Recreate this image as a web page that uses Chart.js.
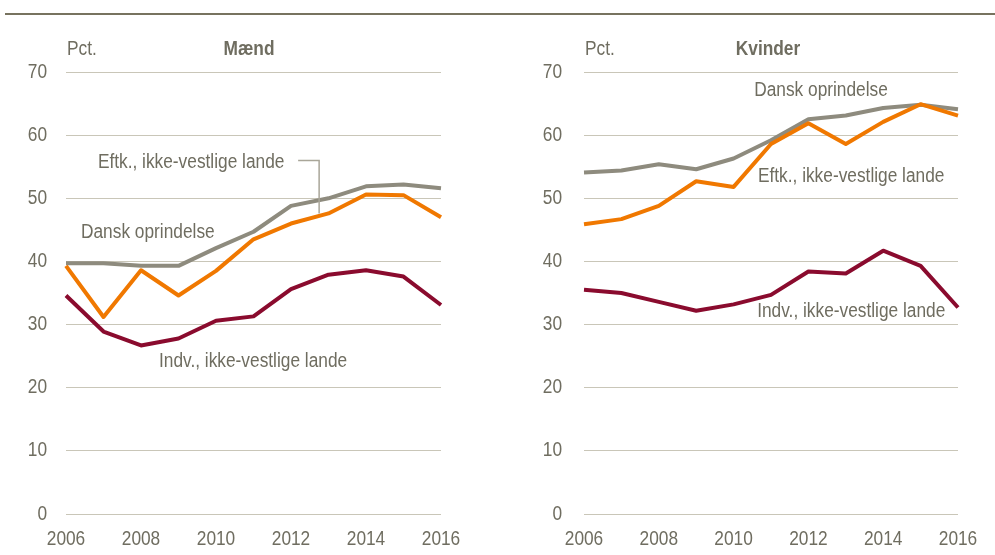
<!DOCTYPE html>
<html>
<head>
<meta charset="utf-8">
<script src="https://cdn.jsdelivr.net/npm/chart.js@4"></script>
<style>
  body { margin: 0; background: #fff; width: 995px; height: 555px; overflow: hidden; position: relative; }
  .rule { position: absolute; left: 5px; top: 13px; width: 990px; height: 2px; background: #77735f; }
  .box { position: absolute; top: 0; width: 497px; height: 555px; }
</style>
</head>
<body>
<div class="rule"></div>
<div class="box" style="left:0"><canvas id="maend"></canvas></div>
<div class="box" style="left:497px"><canvas id="kvinder"></canvas></div>
<script>
// data
const years = ['2006','2007','2008','2009','2010','2011','2012','2013','2014','2015','2016'];
const yTicks = [0, 10, 20, 30, 40, 50, 60, 70];

const maendDansk = [39.7, 39.7, 39.3, 39.3, 42.1, 44.7, 48.8, 50.0, 51.9, 52.2, 51.6];
const maendEftk  = [39.3, 31.2, 38.6, 34.6, 38.5, 43.5, 46.0, 47.6, 50.6, 50.5, 47.0];
const maendIndv  = [34.6, 28.9, 26.7, 27.8, 30.6, 31.3, 35.6, 37.9, 38.6, 37.6, 33.1];

const kvinderDansk = [54.1, 54.4, 55.4, 54.6, 56.3, 59.2, 62.5, 63.1, 64.3, 64.8, 64.1];
const kvinderEftk  = [45.9, 46.7, 48.8, 52.7, 51.8, 58.6, 61.9, 58.6, 62.1, 64.9, 63.1];
const kvinderIndv  = [35.5, 35.0, 33.6, 32.2, 33.2, 34.7, 38.4, 38.1, 41.7, 39.3, 32.7];

// no narrow font installed, so squeeze Liberation Sans a bit
const FONT = "'Liberation Sans', Arial, sans-serif";
const SQ = 0.865;
const TXT = '#6f6d60';
const GREY = '#8e8b7e', ORANGE = '#f07800', RED = '#8a0b2e';

// labels placed in data units (year index, value)
const maendNotes = [
  { text: 'Eftk., ikke-vestlige lande', x: 0.85, y: 55.6 },
  { text: 'Dansk oprindelse', x: 0.4, y: 44.55 },
  { text: 'Indv., ikke-vestlige lande', x: 2.48, y: 24.1 }
];
const kvinderNotes = [
  { text: 'Dansk oprindelse', x: 4.55, y: 67.0 },
  { text: 'Eftk., ikke-vestlige lande', x: 4.65, y: 53.4 },
  { text: 'Indv., ikke-vestlige lande', x: 4.63, y: 32.0 }
];
// leader line for the male Eftk. label: [x, y] points
const maendLeader = [[6.19, 56.0], [6.75, 56.0], [6.75, 47.6]];

function squeezed(c, s, x, y, align) {
  c.save();
  c.translate(x, y);
  c.scale(SQ, 1);
  c.textAlign = align;
  c.fillText(s, 0, 0);
  c.restore();
}

function notesPlugin(title, notes, leader, tickPad, titleShift) {
  return {
    id: 'notes',
    afterDraw(chart) {
      const c = chart.ctx, xs = chart.scales.x, ys = chart.scales.y, a = chart.chartArea;
      const px = v => a.left + (a.right - a.left) * v / (years.length - 1);
      c.save();
      c.fillStyle = TXT;
      c.textBaseline = 'middle';

      // axis labels
      c.font = '20px ' + FONT;
      yTicks.forEach(v => squeezed(c, String(v), a.left - tickPad, ys.getPixelForValue(v), 'right'));
      years.forEach((y, i) => {
        if (i % 2 === 0) squeezed(c, y, xs.getPixelForValue(i), a.bottom + 25, 'center');
      });

      squeezed(c, 'Pct.', a.left + 1, 49, 'left');
      c.font = 'bold 20px ' + FONT;
      squeezed(c, title, (a.left + a.right) / 2 + titleShift, 49, 'center');

      c.font = '20px ' + FONT;
      notes.forEach(n => squeezed(c, n.text, px(n.x), ys.getPixelForValue(n.y), 'left'));

      if (leader) {
        c.strokeStyle = '#a9a699';
        c.lineWidth = 1.5;
        c.beginPath();
        leader.forEach((p, i) => {
          const X = px(p[0]), Y = ys.getPixelForValue(p[1]);
          i ? c.lineTo(X, Y) : c.moveTo(X, Y);
        });
        c.stroke();
      }
      c.restore();
    }
  };
}

function makeChart(id, title, dansk, eftk, indv, notes, leader, yWidth, padRight, tickPad, titleShift) {
  const line = (data, color) => ({
    data: data, borderColor: color, borderWidth: 4, pointRadius: 0,
    tension: 0, fill: false, borderJoinStyle: 'round'
  });
  return new Chart(document.getElementById(id), {
    type: 'line',
    data: {
      labels: years,
      datasets: [line(indv, RED), line(eftk, ORANGE), line(dansk, GREY)]
    },
    options: {
      responsive: false,
      animation: false,
      layout: { padding: { top: 72, right: padRight, bottom: 0, left: 0 } },
      plugins: { legend: { display: false }, tooltip: { enabled: false } },
      scales: {
        x: {
          grid: { display: false },
          border: { display: false },
          afterFit(s) { s.height = 41; },
          ticks: { display: false }
        },
        y: {
          min: 0, max: 70,
          afterFit(s) { s.width = yWidth; },
          afterBuildTicks(s) { s.ticks = yTicks.map(v => ({ value: v })); },
          grid: { color: '#c9c6b8', lineWidth: 1, drawTicks: false },
          border: { display: false },
          ticks: { display: false }
        }
      }
    },
    plugins: [notesPlugin(title, notes, leader, tickPad, titleShift)]
  });
}

for (const id of ['maend', 'kvinder']) {
  const cv = document.getElementById(id);
  cv.width = 497; cv.height = 555;
}
makeChart('maend', 'Mænd', maendDansk, maendEftk, maendIndv, maendNotes, maendLeader, 66, 56, 19, -4.5);
makeChart('kvinder', 'Kvinder', kvinderDansk, kvinderEftk, kvinderIndv, kvinderNotes, null, 87, 36, 22, -3);
</script>
</body>
</html>
